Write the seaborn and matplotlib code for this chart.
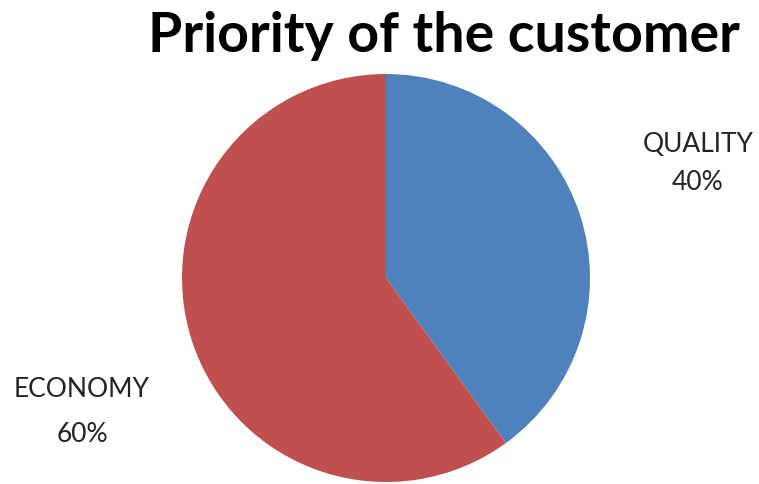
import matplotlib
matplotlib.use("Agg")
import matplotlib.pyplot as plt
import seaborn as sns

# Share of customers by what they prioritise
categories = ["QUALITY", "ECONOMY"]
shares = [40, 60]
slice_colors = ["#4F81BD", "#C0504D"]
title_text = "Priority of the customer"

sns.set_theme(style="white")
plt.rcParams["font.family"] = ["Lato", "DejaVu Sans"]

W, H = 759, 484
fig = plt.figure(figsize=(W / 100, H / 100), dpi=100)
fig.patch.set_facecolor("white")

# pie axes: centre (386, 278) px, radius 204 px
cx, cy, r = 386, 278, 204
ax = fig.add_axes([(cx - r) / W, (H - cy - r) / H, 2 * r / W, 2 * r / H])
ax.pie(shares, colors=slice_colors, startangle=90, counterclock=False,
       radius=1.0, wedgeprops=dict(linewidth=0))
ax.set_xlim(-1, 1)
ax.set_ylim(-1, 1)
ax.set_aspect("equal")
ax.axis("off")

# outside labels: (x centre, name baseline, percent baseline) in pixels
label_pos = {"QUALITY": (698, 152, 190), "ECONOMY": (82, 397, 442)}
for cat, val in zip(categories, shares):
    x, y1, y2 = label_pos[cat]
    fig.text(x / W, 1 - y1 / H, cat, ha="center", va="baseline",
             fontsize=19, color="#222222")
    fig.text(x / W, 1 - y2 / H, f"{val}%", ha="center", va="baseline",
             fontsize=19, color="#222222")

fig.text(444 / W, 1 - 52 / H, title_text, ha="center", va="baseline",
         fontsize=40, fontweight="bold", color="black")

fig.savefig("out.png", dpi=100, facecolor="white")
